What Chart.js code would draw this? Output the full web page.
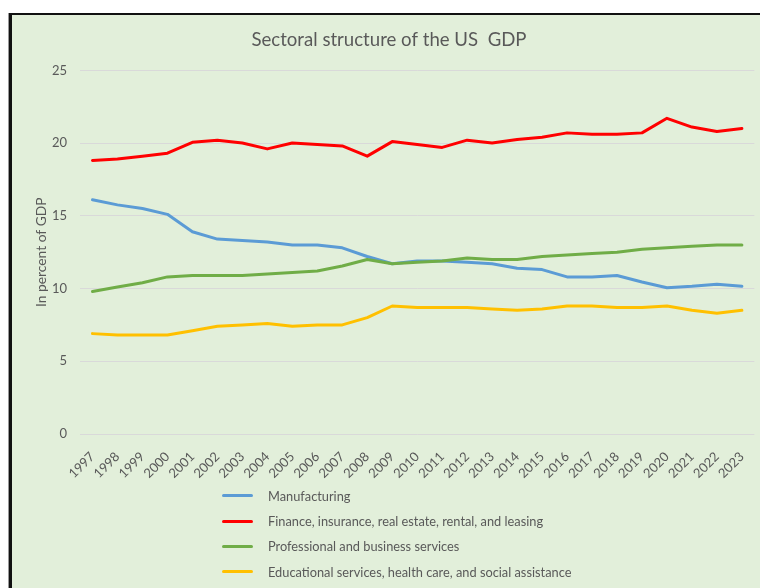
<!DOCTYPE html>
<html>
<head>
<meta charset="utf-8">
<title>Sectoral structure of the US GDP</title>
<script src="https://cdn.jsdelivr.net/npm/chart.js@4"></script>
<style>
  body { margin: 0; background: #fff; }
  #frame {
    position: absolute; left: 9px; top: 13px; width: 748px; height: 575px;
    border-left: 3px solid #111; border-top: 2px solid #111;
    box-shadow: -1px 0 0 #999;
    background: #e2efda;
  }
  #frame canvas { position: absolute; left: 0; top: 0; }
  #legend {
    position: absolute; left: 210px; top: 468px;
    font-family: Lato, sans-serif; font-size: 12.8px; color: #595959;
  }
  #legend .item { height: 25.4px; display: flex; align-items: center; }
  #legend .swatch { width: 31px; height: 3px; border-radius: 2px; margin-right: 15px; }
</style>
</head>
<body>
<div id="frame">
  <canvas id="grafico" width="748" height="573"></canvas>
  <div id="legend"></div>
</div>
<script>
// anos e participação de cada setor no PIB (%)
const anos = ['1997','1998','1999','2000','2001','2002','2003','2004','2005','2006','2007','2008','2009',
  '2010','2011','2012','2013','2014','2015','2016','2017','2018','2019','2020','2021','2022','2023'];
const manufatura = [16.1, 15.75, 15.5, 15.1, 13.9, 13.4, 13.3, 13.2, 13.0, 13.0, 12.8, 12.2, 11.7,
  11.9, 11.9, 11.8, 11.7, 11.4, 11.3, 10.8, 10.8, 10.9, 10.45, 10.05, 10.15, 10.3, 10.15];
const financas = [18.8, 18.9, 19.1, 19.3, 20.05, 20.2, 20.0, 19.6, 20.0, 19.9, 19.8, 19.1, 20.1,
  19.9, 19.7, 20.2, 20.0, 20.25, 20.4, 20.7, 20.6, 20.6, 20.7, 21.7, 21.1, 20.8, 21.0];
const profissionais = [9.8, 10.1, 10.4, 10.8, 10.9, 10.9, 10.9, 11.0, 11.1, 11.2, 11.55, 12.0, 11.7,
  11.8, 11.9, 12.1, 12.0, 12.0, 12.2, 12.3, 12.4, 12.5, 12.7, 12.8, 12.9, 13.0, 13.0];
const educacao = [6.9, 6.8, 6.8, 6.8, 7.1, 7.4, 7.5, 7.6, 7.4, 7.5, 7.5, 8.0, 8.8,
  8.7, 8.7, 8.7, 8.6, 8.5, 8.6, 8.8, 8.8, 8.7, 8.7, 8.8, 8.5, 8.3, 8.5];
const ticksY = [0, 5, 10, 15, 20, 25];

const series = [
  { label: 'Manufacturing', data: manufatura, cor: '#5b9bd5' },
  { label: 'Finance, insurance, real estate, rental, and leasing', data: financas, cor: '#ff0000' },
  { label: 'Professional and business services', data: profissionais, cor: '#70ad47' },
  { label: 'Educational services, health care, and social assistance', data: educacao, cor: '#ffc000' }
];

const fonte = 'Lato, sans-serif';
const cinza = '#595959';

const ctx = document.getElementById('grafico');
const myChart = new Chart(ctx, {
  type: 'line',
  data: {
    labels: anos,
    datasets: series.map(function (s, i) {
      return {
        label: s.label,
        data: s.data,
        borderColor: s.cor,
        backgroundColor: s.cor,
        borderWidth: 3,
        pointRadius: 0,
        tension: 0,
        fill: false,
        borderCapStyle: 'round',
        borderJoinStyle: 'round',
        order: series.length - i  // a última série fica por cima
      };
    })
  },
  options: {
    responsive: false,
    animation: false,
    layout: { padding: { left: 10, right: 4, top: 0, bottom: 0 } },
    plugins: {
      legend: { display: false },
      tooltip: { enabled: false },
      title: {
        display: true,
        text: 'Sectoral structure of the US  GDP',
        color: cinza,
        font: { family: fonte, size: 18.6, weight: 'normal' },
        padding: { top: 14, bottom: 19 }
      }
    },
    scales: {
      x: {
        offset: true,
        grid: { display: false },
        border: { display: false },
        ticks: {
          color: cinza,
          font: { family: fonte, size: 13 },
          minRotation: 45,
          maxRotation: 45,
          autoSkip: false,
          padding: 7
        },
        afterFit: function (s) { s.height = 154; }
      },
      y: {
        min: 0,
        max: 25,
        afterBuildTicks: function (s) { s.ticks = ticksY.map(function (v) { return { value: v }; }); },
        grid: { color: '#d9d9d9', lineWidth: 1, drawTicks: false },
        border: { display: false },
        ticks: { color: cinza, font: { family: fonte, size: 13 }, padding: 13 },
        title: {
          display: true,
          text: 'In percent of GDP',
          color: cinza,
          font: { family: fonte, size: 13.8 },
          padding: { top: 11, bottom: 0 }
        },
        afterFit: function (s) { s.width = 58; }
      }
    }
  }
});

// legenda em HTML, uma série por linha
var legenda = document.getElementById('legend');
series.forEach(function (s) {
  var item = document.createElement('div');
  item.className = 'item';
  var linha = document.createElement('span');
  linha.className = 'swatch';
  linha.style.background = s.cor;
  var texto = document.createElement('span');
  texto.textContent = s.label;
  item.appendChild(linha);
  item.appendChild(texto);
  legenda.appendChild(item);
});
</script>
</body>
</html>
